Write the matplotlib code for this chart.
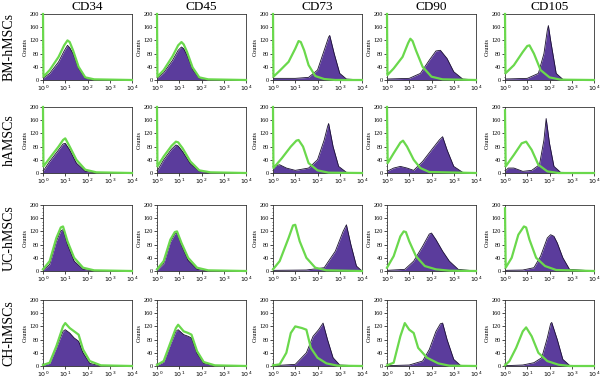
import numpy as np
import matplotlib
matplotlib.use('agg')
import matplotlib.pyplot as plt
from matplotlib.ticker import MultipleLocator, NullLocator

# flow cytometry histograms as (log10 intensity, counts) points

markers = ['CD34', 'CD45', 'CD73', 'CD90', 'CD105']
samples = ['BM-hMSCs', 'hAMSCs', 'UC-hMSCs', 'CH-hMSCs']

# isotype controls (green)
iso_bm = [
    [(0, 200), (0.02, 10), (0.3, 30), (0.7, 70), (0.95, 105), (1.1, 120), (1.2, 115), (1.35, 90), (1.6, 40), (1.9, 8), (2.3, 2), (4, 0)],
    [(0, 200), (0.02, 10), (0.3, 30), (0.7, 72), (0.95, 105), (1.1, 115), (1.2, 108), (1.35, 85), (1.6, 38), (1.9, 8), (2.3, 2), (4, 0)],
    [(0, 200), (0.02, 10), (0.3, 28), (0.7, 55), (1.0, 95), (1.15, 118), (1.25, 115), (1.4, 90), (1.6, 45), (1.9, 12), (2.3, 3), (2.8, 0), (4, 0)],
    [(0, 200), (0.02, 15), (0.3, 35), (0.7, 70), (0.95, 112), (1.05, 125), (1.15, 118), (1.3, 90), (1.6, 40), (2.0, 10), (2.5, 2), (4, 0)],
    [(0, 200), (0.02, 20), (0.4, 45), (0.8, 85), (1.0, 103), (1.1, 105), (1.3, 80), (1.6, 30), (2.0, 8), (2.5, 1), (4, 0)],
]
iso_am = [
    [(0, 200), (0.02, 20), (0.3, 45), (0.7, 80), (0.9, 100), (1.0, 105), (1.2, 80), (1.5, 40), (1.9, 10), (2.4, 2), (4, 0)],
    [(0, 200), (0.02, 20), (0.3, 50), (0.65, 82), (0.85, 95), (0.95, 93), (1.15, 75), (1.5, 35), (1.9, 8), (2.4, 2), (4, 0)],
    [(0, 200), (0.02, 15), (0.4, 45), (0.8, 80), (1.05, 98), (1.15, 100), (1.35, 80), (1.6, 30), (2.0, 8), (2.5, 1), (4, 0)],
    [(0, 200), (0.03, 30), (0.3, 60), (0.6, 92), (0.72, 98), (0.9, 80), (1.2, 40), (1.5, 15), (1.9, 3), (4, 0)],
    [(0, 190), (0.03, 20), (0.4, 55), (0.75, 90), (0.95, 95), (1.2, 70), (1.5, 25), (1.9, 5), (2.4, 0), (4, 0)],
]
iso_uc = [
    [(0, 5), (0.3, 30), (0.6, 100), (0.8, 132), (0.9, 135), (1.1, 90), (1.4, 40), (1.8, 10), (2.3, 2), (4, 0)],
    [(0, 5), (0.3, 30), (0.6, 95), (0.8, 118), (0.9, 120), (1.1, 85), (1.4, 40), (1.8, 10), (2.3, 2), (4, 0)],
    [(0, 5), (0.3, 30), (0.7, 100), (0.9, 138), (1.0, 140), (1.2, 90), (1.5, 40), (1.9, 10), (2.4, 2), (4, 0)],
    [(0, 10), (0.3, 45), (0.6, 105), (0.75, 120), (0.85, 118), (1.0, 90), (1.3, 45), (1.7, 15), (2.2, 5), (2.8, 1), (4, 0)],
    [(0, 190), (0.03, 10), (0.3, 40), (0.6, 110), (0.85, 135), (0.95, 132), (1.1, 95), (1.4, 40), (1.8, 15), (2.3, 3), (4, 0)],
]
iso_ch = [
    [(0, 3), (0.3, 10), (0.6, 60), (0.9, 120), (1.0, 130), (1.2, 115), (1.4, 105), (1.6, 95), (1.8, 50), (2.1, 15), (2.6, 2), (4, 0)],
    [(0, 3), (0.3, 15), (0.6, 70), (0.85, 115), (0.95, 125), (1.2, 105), (1.4, 100), (1.55, 95), (1.8, 45), (2.1, 12), (2.6, 2), (4, 0)],
    [(0, 2), (0.3, 5), (0.6, 40), (0.8, 100), (1.0, 120), (1.3, 115), (1.5, 110), (1.7, 55), (2.0, 25), (2.4, 8), (2.9, 1), (4, 0)],
    [(0, 2), (0.3, 10), (0.6, 90), (0.8, 130), (1.0, 110), (1.2, 100), (1.4, 55), (1.8, 25), (2.3, 8), (2.8, 1), (4, 0)],
    [(0, 2), (0.2, 15), (0.5, 55), (0.8, 105), (0.95, 117), (1.2, 90), (1.5, 40), (1.9, 15), (2.4, 4), (2.9, 0), (4, 0)],
]

# stained samples (purple)
ab_bm = [
    [(0, 5), (0.3, 20), (0.7, 55), (0.95, 88), (1.1, 105), (1.2, 98), (1.35, 80), (1.6, 35), (1.9, 5), (2.3, 0), (4, 0)],
    [(0, 5), (0.3, 22), (0.7, 60), (0.95, 90), (1.1, 100), (1.2, 95), (1.35, 75), (1.6, 32), (1.9, 5), (2.3, 0), (4, 0)],
    [(0, 5), (1.0, 5), (1.6, 8), (2.0, 30), (2.3, 90), (2.5, 130), (2.55, 135), (2.75, 80), (3.0, 20), (3.3, 3), (4, 0)],
    [(0, 3), (1.0, 5), (1.5, 20), (1.9, 60), (2.2, 88), (2.4, 90), (2.7, 65), (3.0, 25), (3.4, 3), (4, 0)],
    [(0, 3), (1.0, 5), (1.5, 20), (1.75, 80), (1.9, 150), (1.95, 165), (2.05, 120), (2.3, 20), (2.6, 2), (4, 0)],
]
ab_am = [
    [(0, 5), (0.3, 35), (0.7, 70), (0.9, 88), (1.0, 90), (1.2, 70), (1.5, 30), (1.9, 5), (2.4, 0), (4, 0)],
    [(0, 5), (0.3, 40), (0.65, 72), (0.85, 85), (0.95, 82), (1.15, 65), (1.5, 28), (1.9, 5), (2.4, 0), (4, 0)],
    [(0, 20), (0.3, 25), (0.6, 15), (1.0, 8), (1.6, 15), (2.0, 40), (2.3, 100), (2.45, 140), (2.5, 150), (2.7, 80), (2.95, 20), (3.3, 2), (4, 0)],
    [(0, 5), (0.3, 15), (0.6, 20), (0.9, 15), (1.2, 8), (1.6, 35), (2.0, 70), (2.35, 100), (2.5, 110), (2.7, 70), (3.0, 20), (3.4, 2), (4, 0)],
    [(0, 5), (0.15, 15), (0.4, 15), (0.8, 5), (1.2, 8), (1.55, 25), (1.75, 100), (1.85, 165), (2.0, 90), (2.2, 20), (2.5, 2), (4, 0)],
]
ab_uc = [
    [(0, 2), (0.3, 20), (0.6, 90), (0.8, 122), (0.9, 125), (1.1, 80), (1.4, 30), (1.8, 5), (2.3, 0), (4, 0)],
    [(0, 2), (0.3, 22), (0.6, 88), (0.8, 112), (0.9, 115), (1.1, 78), (1.4, 32), (1.8, 5), (2.3, 0), (4, 0)],
    [(0, 2), (1.5, 3), (2.3, 10), (2.8, 60), (3.15, 120), (3.3, 140), (3.5, 80), (3.75, 15), (4, 0)],
    [(0, 2), (0.8, 5), (1.2, 30), (1.6, 75), (1.9, 112), (2.0, 115), (2.2, 95), (2.5, 60), (2.8, 30), (3.2, 5), (4, 0)],
    [(0, 2), (0.8, 3), (1.3, 10), (1.6, 45), (1.9, 100), (2.05, 110), (2.2, 105), (2.35, 85), (2.6, 40), (2.9, 5), (4, 0)],
]
ab_ch = [
    [(0, 2), (0.3, 8), (0.6, 55), (0.9, 105), (1.0, 110), (1.2, 100), (1.4, 85), (1.6, 75), (1.8, 40), (2.1, 8), (2.6, 0), (4, 0)],
    [(0, 2), (0.3, 12), (0.6, 65), (0.85, 105), (0.95, 110), (1.2, 95), (1.4, 90), (1.55, 85), (1.8, 38), (2.1, 8), (2.6, 0), (4, 0)],
    [(0, 1), (1.0, 5), (1.5, 40), (1.8, 90), (2.05, 110), (2.25, 130), (2.45, 80), (2.7, 25), (3.0, 3), (4, 0)],
    [(0, 1), (1.0, 3), (1.6, 15), (1.9, 50), (2.2, 105), (2.4, 128), (2.5, 130), (2.7, 80), (3.0, 20), (3.3, 2), (4, 0)],
    [(0, 1), (0.8, 3), (1.3, 10), (1.65, 25), (1.9, 85), (2.05, 128), (2.1, 132), (2.35, 80), (2.6, 20), (2.9, 2), (4, 0)],
]

iso_all = [iso_bm, iso_am, iso_uc, iso_ch]
ab_all = [ab_bm, ab_am, ab_uc, ab_ch]

plt.rcParams['mathtext.fontset'] = 'stix'
serif = 'Liberation Serif'

fig = plt.figure(figsize=(6, 3.8), dpi=100)
W, H = 600.0, 380.0
col_left = [43, 157, 273, 387, 505]
row_top = [14, 107, 205, 300]
aw, ah = 89, 66

for r in range(4):
    for c in range(5):
        ax = fig.add_axes([col_left[c] / W, 1 - (row_top[r] + ah) / H, aw / W, ah / H])
        ab = np.array(ab_all[r][c], dtype=float)
        iso = np.array(iso_all[r][c], dtype=float)
        ax.fill_between(10 ** ab[:, 0], ab[:, 1], color='#5b3c9c', lw=0)
        ax.plot(10 ** ab[:, 0], ab[:, 1], color='#1a1030', lw=0.6)
        ax.plot(10 ** iso[:, 0], iso[:, 1], color='#6ad84c', lw=1.6, clip_on=False, zorder=5)
        ax.set_xscale('log')
        ax.set_xlim(1, 1e4)
        ax.set_ylim(0, 200)
        ax.set_xticks([1, 10, 100, 1000, 10000])
        ax.xaxis.set_minor_locator(NullLocator())
        ax.set_yticks([0, 40, 80, 120, 160, 200])
        ax.yaxis.set_minor_locator(MultipleLocator(10))
        ax.tick_params(labelsize=4.5, length=2, width=0.5, pad=1)
        ax.tick_params(which='minor', length=1, width=0.4)
        for lab in ax.get_yticklabels():
            lab.set_family(serif)
        ax.set_ylabel('Counts', fontsize=4.5, family=serif, labelpad=1)
        for s in ax.spines.values():
            s.set_linewidth(0.6)
            s.set_color('#333333')

for c in range(5):
    fig.text((col_left[c] + aw / 2) / W, 1 - 7 / H, markers[c], ha='center', va='center',
             fontsize=9.5, family=serif)
for r in range(4):
    fig.text(9 / W, 1 - (row_top[r] + ah / 2) / H, samples[r], ha='center', va='center',
             rotation=90, fontsize=10, family=serif)

fig.savefig('out.png', dpi=100)
